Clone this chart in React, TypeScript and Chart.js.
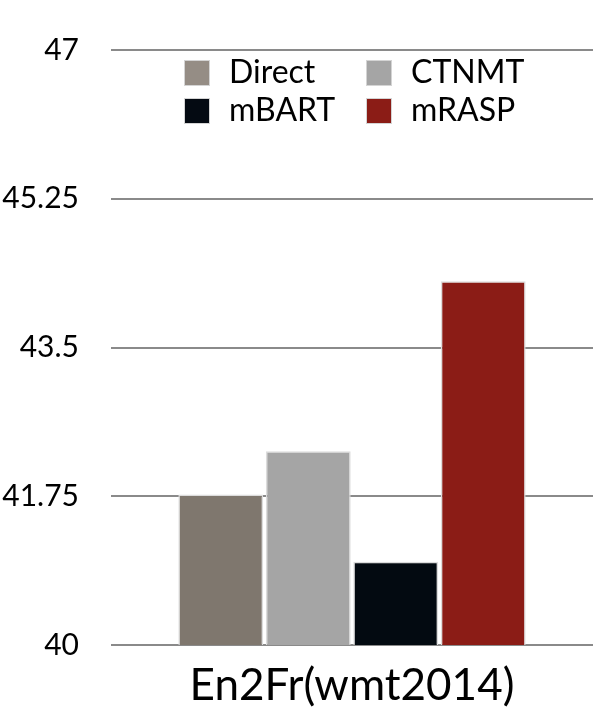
import React, { useEffect, useRef } from "react";
import { Chart, registerables } from "chart.js";

Chart.register(...registerables);

const categories = ["En2Fr(wmt2014)"];
const seriesNames = ["Direct", "CTNMT", "mBART", "mRASP"];
const seriesValues = [[41.77], [42.28], [40.98], [44.28]];
const seriesColors = ["#7f776e", "#a5a5a5", "#030a11", "#8b1c16"];
const legendColors = ["#958d85", "#a5a5a5", "#040a12", "#8b1c16"];
const yTicks = [40, 41.75, 43.5, 45.25, 47];

const FONT = "Lato, 'Open Sans', sans-serif";

const legendPlugin = {
  id: "gridLegend",
  afterDraw(chart: any) {
    const ctx = chart.ctx;
    const area = chart.chartArea;
    ctx.save();
    ctx.font = `32px ${FONT}`;
    ctx.textBaseline = "middle";
    ctx.textAlign = "left";
    chart.data.datasets.forEach((ds: any, i: number) => {
      const col = i % 2;
      const row = Math.floor(i / 2);
      const x = area.left + 73 + col * 182;
      const y = area.top + 10 + row * 38;
      ctx.fillStyle = legendColors[i];
      ctx.fillRect(x, y, 25, 25);
      ctx.strokeStyle = "#d4d4d4";
      ctx.lineWidth = 1;
      ctx.strokeRect(x + 0.5, y + 0.5, 25, 25);
      ctx.fillStyle = "#000";
      ctx.fillText(ds.label, x + 45, y + 13);
    });
    ctx.restore();
  },
};

export default function App() {
  const ref = useRef<HTMLCanvasElement>(null);
  useEffect(() => {
    document.body.style.margin = "0";
    const chart = new Chart(ref.current!, {
      type: "bar",
      data: {
        labels: categories,
        datasets: seriesNames.map((name, i) => ({
          label: name,
          data: seriesValues[i],
          backgroundColor: seriesColors[i],
          borderColor: "#dcdcdc",
          borderWidth: 1.5,
          categoryPercentage: 0.726,
          barPercentage: 0.97,
        })),
      },
      options: {
        animation: false,
        responsive: false,
        layout: { padding: { top: 28, right: 1, left: 0, bottom: 0 } },
        plugins: {
          legend: { display: false },
          tooltip: { enabled: false },
        },
        scales: {
          x: {
            grid: { display: false },
            border: { display: false },
            afterFit: (axis: any) => {
              axis.height = 67;
              axis.paddingLeft = 0;
              axis.paddingRight = 0;
            },
            ticks: {
              color: "#000",
              font: { family: FONT, size: 44 },
              padding: 6,
              maxRotation: 0,
            },
          },
          y: {
            min: 40,
            max: 47,
            afterBuildTicks: (axis: any) => {
              axis.ticks = yTicks.map((v) => ({ value: v }));
            },
            afterFit: (axis: any) => {
              axis.width = 111;
            },
            grid: { color: "#8a8a8a", lineWidth: 2, drawTicks: false },
            border: { display: false },
            ticks: {
              color: "#000",
              font: { family: FONT, size: 30 },
              padding: 32,
              callback: (v: any) => String(v),
            },
          },
        },
      },
      plugins: [legendPlugin],
    });
    return () => chart.destroy();
  }, []);
  return (
    <div style={{ width: 594, height: 712 }}>
      <canvas ref={ref} width={594} height={712} />
    </div>
  );
}
